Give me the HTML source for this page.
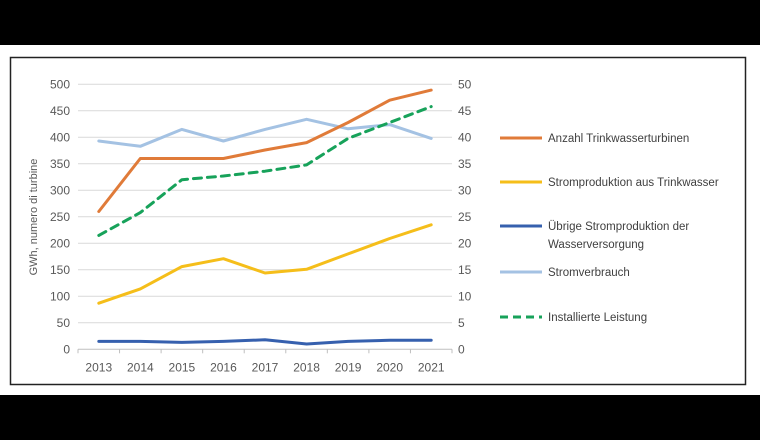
<!DOCTYPE html>
<html><head><meta charset="utf-8"><style>
body{margin:0;background:#000;}
svg{display:block;font-family:"Liberation Sans",sans-serif;}
</style></head><body>
<svg width="760" height="440" viewBox="0 0 760 440">
<rect x="0" y="0" width="760" height="440" fill="#000"/>
<rect x="0" y="45" width="760" height="350" fill="#fff"/>
<rect x="10.5" y="57.5" width="735" height="327" fill="#fff" stroke="#222" stroke-width="1.5"/>
<g id="grid"></g>
<g id="axes"></g>
<g id="series"></g>
<text transform="translate(37,217) rotate(-90)" text-anchor="middle" font-size="11" fill="#595959">GWh, numero di turbine</text>
<g font-size="11.5" fill="#404040">
<g><line x1="500" y1="138" x2="542" y2="138" stroke="#E07B39" stroke-width="3"/><text x="548" y="142">Anzahl Trinkwasserturbinen</text></g>
<g><line x1="500" y1="182" x2="542" y2="182" stroke="#F5BE1A" stroke-width="3"/><text x="548" y="186">Stromproduktion aus Trinkwasser</text></g>
<g><line x1="500" y1="226" x2="542" y2="226" stroke="#3660AE" stroke-width="3"/><text x="548" y="230">Übrige Stromproduktion der</text><text x="548" y="248">Wasserversorgung</text></g>
<g><line x1="500" y1="272" x2="542" y2="272" stroke="#A4C2E3" stroke-width="3"/><text x="548" y="276">Stromverbrauch</text></g>
<g><line x1="500" y1="317" x2="542" y2="317" stroke="#17A25A" stroke-width="3" stroke-dasharray="8,5"/><text x="548" y="321">Installierte Leistung</text></g>
</g>
</svg>
<script>
const categories=["2013","2014","2015","2016","2017","2018","2019","2020","2021"];
const leftTicks=[0,50,100,150,200,250,300,350,400,450,500];
const rightTicks=[0,5,10,15,20,25,30,35,40,45,50];
const anzahl=[260,360,360,360,376,390,428,470,489];
const stromverbrauch=[393,383,415,393,415,434,416,424,398];
const stromproduktion=[87,114,156,171,144,151,180,209,235];
const uebrige=[15,15,13,15,18,10,15,17,17];
const leistung=[21.5,25.8,32,32.7,33.6,34.8,39.8,42.8,45.8];
const NS="http://www.w3.org/2000/svg";
const L=78,R=452,T=84.3,B=349.3;
const bw=(R-L)/categories.length;
const xS=i=>L+bw*(i+0.5);
const yL=v=>B-(v/500)*(B-T);
const yR=v=>B-(v/50)*(B-T);
function mk(tag,attrs,parent){const e=document.createElementNS(NS,tag);for(const k in attrs)e.setAttribute(k,attrs[k]);parent.appendChild(e);return e;}
const grid=document.getElementById('grid'),axes=document.getElementById('axes'),ser=document.getElementById('series');
leftTicks.forEach((v,i)=>{
 if(v>0){const g=mk('line',{x1:L,x2:R,y1:yL(v),y2:yL(v),stroke:'#d9d9d9','stroke-width':1},grid);
 
 }
 const t=mk('text',{x:L-8,y:yL(v)+4,'text-anchor':'end','font-size':12,fill:'#595959'},axes);t.textContent=v;
 
 
});
rightTicks.forEach(v=>{
 const t=mk('text',{x:R+6,y:yR(v)+4,'text-anchor':'start','font-size':12,fill:'#595959'},axes);t.textContent=v;
 
 
});
const ax=mk('line',{x1:L,x2:R,y1:B,y2:B,stroke:'#bfbfbf','stroke-width':1},axes);


for(let i=0;i<=categories.length;i++){const tk=mk('line',{x1:L+bw*i,x2:L+bw*i,y1:B,y2:B+4,stroke:'#bfbfbf'},axes);
 
 }
categories.forEach((c,i)=>{const t=mk('text',{x:xS(i),y:B+22,'text-anchor':'middle','font-size':12,fill:'#595959'},axes);t.textContent=c;
 
 });
function line(data,ys,color,name,dash){
 const d=data.map((v,i)=>(i?'L':'M')+xS(i).toFixed(1)+','+ys(v).toFixed(1)).join('');
 const p=mk('path',{d:d,fill:'none',stroke:color,'stroke-width':3,'stroke-linejoin':'round','stroke-linecap':'round'},ser);
 if(dash)p.setAttribute('stroke-dasharray',dash);
 
 
}
line(stromverbrauch,yL,'#A4C2E3','series-stromverbrauch');
line(uebrige,yL,'#3660AE','series-uebrige-stromproduktion');
line(stromproduktion,yL,'#F5BE1A','series-stromproduktion');
line(anzahl,yL,'#E07B39','series-anzahl-turbinen');
line(leistung,yR,'#17A25A','series-installierte-leistung','8,6');
</script>
</body></html>
